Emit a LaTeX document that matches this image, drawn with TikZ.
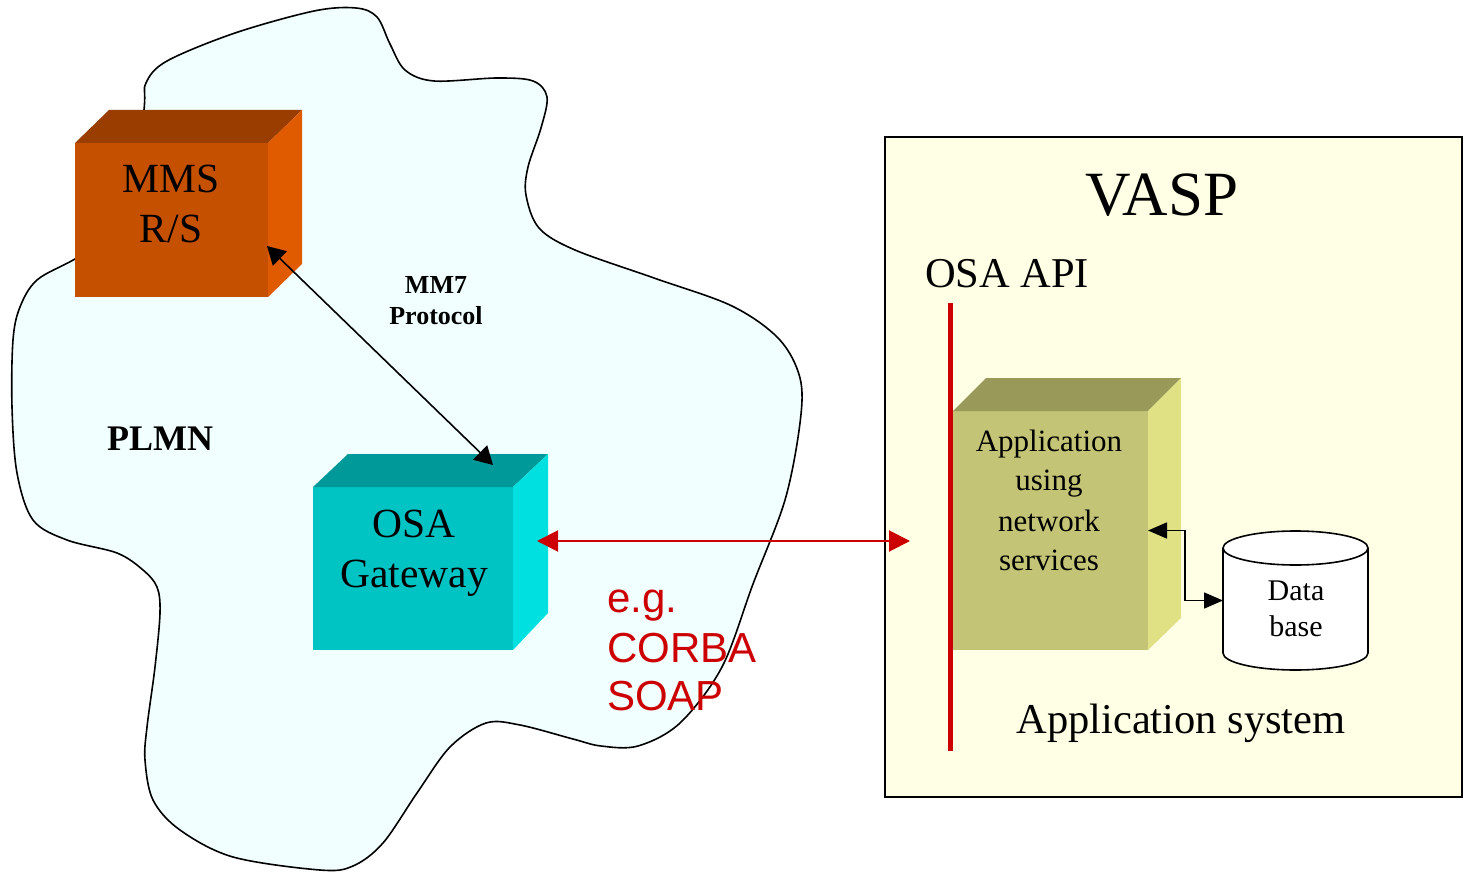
\documentclass[tikz,border=0pt]{standalone}
\usepackage{fontspec}
\setmainfont{Liberation Serif}
\newfontfamily\arialfont{Liberation Sans}
\usetikzlibrary{arrows.meta,calc}
\definecolor{cloudfill}{HTML}{F2FFFF}
\definecolor{mmsfront}{HTML}{C45000}
\definecolor{mmstop}{HTML}{993D00}
\definecolor{mmsright}{HTML}{E05A00}
\definecolor{gwfront}{HTML}{00C4C4}
\definecolor{gwtop}{HTML}{009999}
\definecolor{gwright}{HTML}{00E0E0}
\definecolor{appfront}{HTML}{C4C476}
\definecolor{apptop}{HTML}{999959}
\definecolor{appright}{HTML}{E0E085}
\definecolor{vaspfill}{HTML}{FFFFE6}
\definecolor{osared}{HTML}{CC0000}
\begin{document}
\begin{tikzpicture}[x=1pt,y=-1pt,
  face/.style={inner sep=0pt, outer sep=0pt, anchor=north west, draw=none},
  lbl/.style={inner sep=0pt, outer sep=0pt, anchor=base},
  boxfont/.style={font=\fontsize{41.5}{49}\selectfont},
  appfont/.style={font=\fontsize{31}{40}\selectfont},
  dbfont/.style={font=\fontsize{30}{36}\selectfont},
  bigfont/.style={font=\fontsize{42.5}{50}\selectfont},
  protofont/.style={font=\bfseries\fontsize{26}{31}\selectfont},
  redfont/.style={font=\arialfont\fontsize{42}{49}\selectfont, text=osared},
  mmarrow/.style={{Triangle[length=18pt,width=20pt]}-{Triangle[length=18pt,width=20pt]}, line width=1.6pt},
  redarrow/.style={{Triangle[length=21pt,width=21pt]}-{Triangle[length=21pt,width=21pt]}, line width=2pt, draw=osared},
  dbarrow/.style={{Triangle[length=19pt,width=16pt]}-{Triangle[length=19pt,width=16pt]}, line width=1.6pt},
  outline/.style={line width=1.6pt, draw=black}]
\useasboundingbox (0,0) rectangle (1467,872);
\fill[white] (0,0) rectangle (1467,872);

% PLMN cloud
\draw[outline, fill=cloudfill] plot[smooth cycle, tension=0.55] coordinates {
 (144,110) (146,83) (167,61) (235,33) (314,11) (356,8) (377,17) (390,44)
 (405,70) (434,81) (497,78) (533,81) (547,97) (541,128) (528,167) (526,195)
 (539,228) (575,250) (654,278) (732,306) (779,339) (800,378) (800,423)
 (785,500) (753,584) (722,667) (680,723) (638,746) (601,746) (573,739)
 (520,725) (486,723) (450,747) (417,793) (383,843) (353,866) (320,870)
 (233,857) (180,830) (153,800) (145,760) (147,727) (155,667) (160,613)
 (157,587) (143,570) (117,553) (67,540) (33,520) (17,473) (12,407)
 (13,340) (20,307) (37,280) (75,259) (132,225)};

% MMS R/S box
\node[face, fill=mmsfront, minimum width=193pt, minimum height=154pt] (mmsF) at (75,143) {};
\fill[mmstop] (mmsF.north west) -- ++(34,-33) -- ($(mmsF.north east)+(34,-33)$) -- (mmsF.north east) -- cycle;
\fill[mmsright] (mmsF.north east) -- ++(34,-33) -- ($(mmsF.south east)+(34,-33)$) -- (mmsF.south east) -- cycle;
\node[lbl, boxfont] (mms1) at (171,193) {MMS};
\node[lbl, boxfont] (mms2) at (171,242) {R/S};

% OSA Gateway box
\node[face, fill=gwfront, minimum width=200pt, minimum height=163pt] (gwF) at (313,487) {};
\fill[gwtop] (gwF.north west) -- ++(35,-33) -- ($(gwF.north east)+(35,-33)$) -- (gwF.north east) -- cycle;
\fill[gwright] (gwF.north east) -- ++(35,-33) -- ($(gwF.south east)+(35,-37)$) -- (gwF.south east) -- cycle;
\node[lbl, boxfont] (gw1) at (414,537) {OSA};
\node[lbl, boxfont] (gw2) at (414,587) {Gateway};

% MM7 connector
\coordinate (mmsPort) at ($(mmsF.east)+(-1,26)$);
\coordinate (gwPort) at ($(gwF.north)+(80,-22)$);
\draw[mmarrow] (mmsPort) -- (gwPort);
\node[lbl, protofont] (mm7a) at (436,293) {MM7};
\node[lbl, protofont] (mm7b) at (436,324) {Protocol};

\node[lbl, font=\bfseries\fontsize{36}{40}\selectfont] (plmn) at (160,450) {PLMN};

% VASP box
\node[face, draw=black, line width=1.6pt, fill=vaspfill, minimum width=577pt, minimum height=660pt] (vasp) at (885,137) {};
\node[lbl, font=\fontsize{63}{70}\selectfont] (vaspT) at (1162,215) {VASP};
\node[lbl, anchor=base west, bigfont] (api) at (925,287) {OSA API};
\draw[line width=5pt, draw=osared] (950,303) -- (950,751);

% Application box
\node[face, fill=appfront, minimum width=195pt, minimum height=239pt] (appF) at (953,411) {};
\fill[apptop] (appF.north west) -- ++(33,-33) -- ($(appF.north east)+(33,-33)$) -- (appF.north east) -- cycle;
\fill[appright] (appF.north east) -- ++(33,-33) -- ($(appF.south east)+(33,-32)$) -- (appF.south east) -- cycle;
\node[lbl, appfont] (app1) at (1049,451) {Application};
\node[lbl, appfont] (app2) at (1049,490) {using};
\node[lbl, appfont] (app3) at (1049,531) {network};
\node[lbl, appfont] (app4) at (1049,570) {services};

% Database cylinder
\node[inner sep=0pt, outer sep=0pt, minimum width=145pt, minimum height=139pt] (db) at (1295.5,600.5) {};
\draw[outline, fill=white] ($(db.north west)+(0,17)$) -- ($(db.south west)+(0,-17)$)
  arc[start angle=180, end angle=0, x radius=72.5, y radius=17]
  -- ($(db.north east)+(0,17)$)
  arc[start angle=0, end angle=-180, x radius=72.5, y radius=17] -- cycle;
\draw[outline] ($(db.north west)+(0,17)$) arc[start angle=180, end angle=0, x radius=72.5, y radius=17];
\node[lbl, dbfont] (db1) at (1296,600) {Data};
\node[lbl, dbfont] (db2) at (1296,636) {base};
\draw[dbarrow] (appF.east) -- ++(37,0) |- (db.west);

% CORBA / SOAP link
\coordinate (gwPortR) at ($(gwF.east)+(24,-27.5)$);
\coordinate (apiIn) at (910,541);
\draw[redarrow] (gwPortR) -- (apiIn);
\node[lbl, anchor=base west, redfont] (eg) at (607,612) {e.g.};
\node[lbl, anchor=base west, redfont] (corba) at (607,662) {CORBA};
\node[lbl, anchor=base west, redfont] (soap) at (607,710) {SOAP};

\node[lbl, bigfont] (appsys) at (1181,733) {Application system};
\end{tikzpicture}
\end{document}
